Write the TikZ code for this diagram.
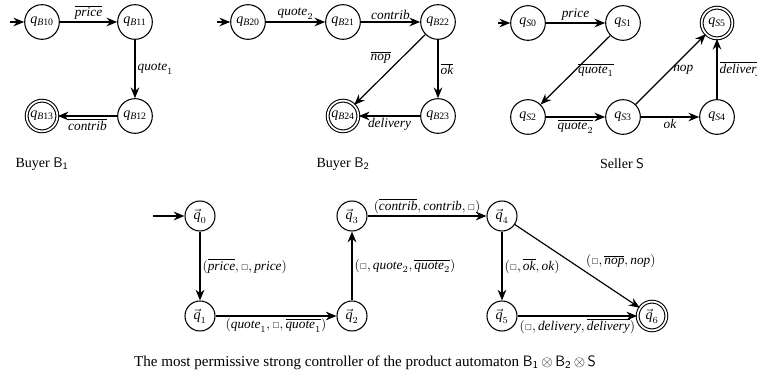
\documentclass[tikz,border=0pt]{standalone}
\usepackage{amssymb}
\usepackage{fontspec}
\setmainfont{Liberation Serif}
\usetikzlibrary{arrows.meta}
\newcommand\wrd[1]{\hbox{\textit{#1}}}
\newcommand\qst[1]{\textit{q}\textsubscript{#1}}
\newcommand\qv[1]{$\vec{\hbox{\textit{q}}}_{#1}$}
\newcommand\sqb{{\scriptscriptstyle\square}}
\tikzset{
  st/.style={circle,draw,line width=0.8pt,minimum size=26pt,inner sep=0pt,font=\fontsize{10.5}{12}\selectfont},
  acc/.style={st,double,double distance=1.3pt,minimum size=23pt},
  bst/.style={st,minimum size=22.5pt},
  bacc/.style={bst,double,double distance=1.3pt,minimum size=21.5pt},
  tr/.style={line width=0.9pt,-{Stealth[length=8pt,width=6.5pt]}},
  lab/.style={font=\fontsize{10}{12}\selectfont,inner sep=1.5pt},
  captext/.style={font=\fontsize{10.5}{12}\selectfont}
}
\begin{document}
\begin{tikzpicture}[x=0.75pt,y=-0.75pt]
\useasboundingbox (0,0) rectangle (757,377);
% Buyer B1
\node[st] (b10) at (42,22) {\qst{\textit{B}10}};
\node[st] (b11) at (135,22) {\qst{\textit{B}11}};
\node[st] (b12) at (135,116) {\qst{\textit{B}12}};
\node[acc] (b13) at (42,116) {\qst{\textit{B}13}};
\coordinate (i1) at (10,22);
\draw[tr] (i1) -- (b10);
\draw[tr] (b10) -- node[lab,above] {$\overline{\wrd{price}}$} (b11);
\draw[tr] (b11) -- node[lab,right] {$\wrd{quote}_1$} (b12);
\draw[tr] (b12) -- node[lab,below] {$\overline{\wrd{contrib}}$} (b13);
\node[captext] (c1) at (42,164) {Buyer \textsf{B\textsubscript{1}}};
% Buyer B2
\node[st] (b20) at (248,22) {\qst{\textit{B}20}};
\node[st] (b21) at (343,22) {\qst{\textit{B}21}};
\node[st] (b22) at (438,22) {\qst{\textit{B}22}};
\node[st] (b23) at (438,116) {\qst{\textit{B}23}};
\node[acc] (b24) at (343,116) {\qst{\textit{B}24}};
\coordinate (i2) at (217,22);
\draw[tr] (i2) -- (b20);
\draw[tr] (b20) -- node[lab,above] {$\wrd{quote}_2$} (b21);
\draw[tr] (b21) -- node[lab,above] {$\wrd{contrib}$} (b22);
\draw[tr] (b22) -- node[lab,pos=0.45,anchor=south east] {$\overline{\wrd{nop}}$} (b24);
\draw[tr] (b22) -- node[lab,right] {$\overline{\wrd{ok}}$} (b23);
\draw[tr] (b23) -- node[lab,below] {$\wrd{delivery}$} (b24);
\node[captext] (c2) at (343,164) {Buyer \textsf{B\textsubscript{2}}};
% Seller
\node[st] (s0) at (528,23) {\qst{\textit{S}0}};
\node[st] (s1) at (623,23) {\qst{\textit{S}1}};
\node[acc] (s5) at (717,23) {\qst{\textit{S}5}};
\node[st] (s2) at (528,117) {\qst{\textit{S}2}};
\node[st] (s3) at (623,117) {\qst{\textit{S}3}};
\node[st] (s4) at (717,117) {\qst{\textit{S}4}};
\coordinate (i3) at (498,23);
\draw[tr] (i3) -- (s0);
\draw[tr] (s0) -- node[lab,above] {$\wrd{price}$} (s1);
\draw[tr] (s1) -- node[lab,pos=0.5,anchor=west] {$\overline{\wrd{quote}_1}$} (s2);
\draw[tr] (s2) -- node[lab,below] {$\overline{\wrd{quote}_2}$} (s3);
\draw[tr] (s3) -- node[lab,below] {$\wrd{ok}$} (s4);
\draw[tr] (s3) -- node[lab,pos=0.5,anchor=west] {$\wrd{nop}$} (s5);
\draw[tr] (s4) -- node[lab,right] {$\overline{\wrd{delivery}}$} (s5);
\node[captext] (c3) at (622,164) {Seller \textsf{S}};
% Controller
\node[bst] (q0) at (200,216) {\qv{0}};
\node[bst] (q1) at (200,316) {\qv{1}};
\node[bst] (q2) at (352,316) {\qv{2}};
\node[bst] (q3) at (352,216) {\qv{3}};
\node[bst] (q4) at (502,216) {\qv{4}};
\node[bst] (q5) at (502,316) {\qv{5}};
\node[bacc] (q6) at (652,316) {\qv{6}};
\coordinate (i4) at (153,216);
\draw[tr] (i4) -- (q0);
\draw[tr] (q0) -- node[lab,right] {$(\overline{\wrd{price}},\sqb,\wrd{price})$} (q1);
\draw[tr] (q1) -- node[lab,below] {$(\wrd{quote}_1,\sqb,\overline{\wrd{quote}_1})$} (q2);
\draw[tr] (q2) -- node[lab,right] {$(\sqb,\wrd{quote}_2,\overline{\wrd{quote}_2})$} (q3);
\draw[tr] (q3) -- node[lab,above] {$(\overline{\wrd{contrib}},\wrd{contrib},\sqb)$} (q4);
\draw[tr] (q4) -- node[lab,right] {$(\sqb,\overline{\wrd{ok}},\wrd{ok})$} (q5);
\draw[tr] (q4) -- node[lab,pos=0.55,anchor=south west] {$(\sqb,\overline{\wrd{nop}},\wrd{nop})$} (q6);
\draw[tr] (q5) -- node[lab,below] {$(\sqb,\wrd{delivery},\overline{\wrd{delivery}})$} (q6);
\node[font=\fontsize{11.3}{13}\selectfont] (c4) at (365,363) {The most permissive strong controller of the product automaton \textsf{B\textsubscript{1}}\,$\otimes$\,\textsf{B\textsubscript{2}}\,$\otimes$\,\textsf{S}};
\end{tikzpicture}
\end{document}
